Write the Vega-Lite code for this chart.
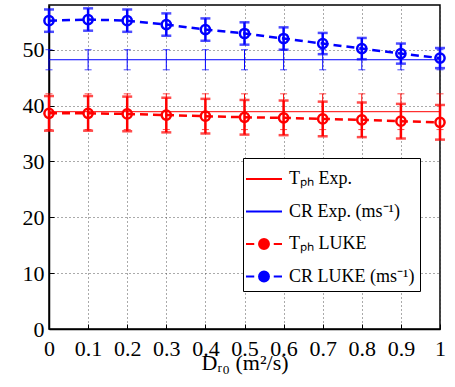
{
  "$schema": "https://vega.github.io/schema/vega-lite/v6.json",
  "width": 391,
  "height": 324,
  "autosize": "none",
  "padding": {"left": 49, "top": 5, "right": 15, "bottom": 58},
  "background": "white",
  "config": {
    "view": {"stroke": "black", "strokeWidth": 1.5},
    "font": "'Liberation Serif', 'Times New Roman', serif",
    "axis": {"labelFont": "'Liberation Serif', 'Times New Roman', serif", "labelFontSize": 22, "labelColor": "black", "labelFlush": false, "labelOverlap": false,
      "tickSize": -5, "tickColor": "black", "tickWidth": 1, "domainColor": "black", "domainWidth": 1.5,
      "grid": true, "gridColor": "#555", "gridDash": [1, 3], "gridWidth": 1,
      "titleFont": "'Liberation Serif', 'Times New Roman', serif", "titleFontSize": 22, "titleFontWeight": "normal", "titleColor": "black"},
    "axisX": {"labelPadding": 14, "titlePadding": -7},
    "axisY": {"labelPadding": 10}
  },
  "data": {"values": [
    {"s": "Tₚₕ Exp.", "x": 0, "y": 38.9, "lo": 35.7, "hi": 42.1},
    {"s": "Tₚₕ Exp.", "x": 0.1, "y": 38.9, "lo": 35.7, "hi": 42.1},
    {"s": "Tₚₕ Exp.", "x": 0.2, "y": 38.9, "lo": 35.7, "hi": 42.1},
    {"s": "Tₚₕ Exp.", "x": 0.3, "y": 38.9, "lo": 35.7, "hi": 42.1},
    {"s": "Tₚₕ Exp.", "x": 0.4, "y": 38.9, "lo": 35.7, "hi": 42.1},
    {"s": "Tₚₕ Exp.", "x": 0.5, "y": 38.9, "lo": 35.7, "hi": 42.1},
    {"s": "Tₚₕ Exp.", "x": 0.6, "y": 38.9, "lo": 35.7, "hi": 42.1},
    {"s": "Tₚₕ Exp.", "x": 0.7, "y": 38.9, "lo": 35.7, "hi": 42.1},
    {"s": "Tₚₕ Exp.", "x": 0.8, "y": 38.9, "lo": 35.7, "hi": 42.1},
    {"s": "Tₚₕ Exp.", "x": 0.9, "y": 38.9, "lo": 35.7, "hi": 42.1},
    {"s": "Tₚₕ Exp.", "x": 1, "y": 38.9, "lo": 35.7, "hi": 42.1},
    {"s": "CR Exp. (ms⁻¹)", "x": 0, "y": 48.2, "lo": 46.4, "hi": 50.0},
    {"s": "CR Exp. (ms⁻¹)", "x": 0.1, "y": 48.2, "lo": 46.4, "hi": 50.0},
    {"s": "CR Exp. (ms⁻¹)", "x": 0.2, "y": 48.2, "lo": 46.4, "hi": 50.0},
    {"s": "CR Exp. (ms⁻¹)", "x": 0.3, "y": 48.2, "lo": 46.4, "hi": 50.0},
    {"s": "CR Exp. (ms⁻¹)", "x": 0.4, "y": 48.2, "lo": 46.4, "hi": 50.0},
    {"s": "CR Exp. (ms⁻¹)", "x": 0.5, "y": 48.2, "lo": 46.4, "hi": 50.0},
    {"s": "CR Exp. (ms⁻¹)", "x": 0.6, "y": 48.2, "lo": 46.4, "hi": 50.0},
    {"s": "CR Exp. (ms⁻¹)", "x": 0.7, "y": 48.2, "lo": 46.4, "hi": 50.0},
    {"s": "CR Exp. (ms⁻¹)", "x": 0.8, "y": 48.2, "lo": 46.4, "hi": 50.0},
    {"s": "CR Exp. (ms⁻¹)", "x": 0.9, "y": 48.2, "lo": 46.4, "hi": 50.0},
    {"s": "CR Exp. (ms⁻¹)", "x": 1, "y": 48.2, "lo": 46.4, "hi": 50.0},
    {"s": "Tₚₕ LUKE", "x": 0, "y": 38.6, "lo": 35.5, "hi": 41.7},
    {"s": "Tₚₕ LUKE", "x": 0.1, "y": 38.6, "lo": 35.5, "hi": 41.7},
    {"s": "Tₚₕ LUKE", "x": 0.2, "y": 38.5, "lo": 35.4, "hi": 41.6},
    {"s": "Tₚₕ LUKE", "x": 0.3, "y": 38.3, "lo": 35.2, "hi": 41.4},
    {"s": "Tₚₕ LUKE", "x": 0.4, "y": 38.1, "lo": 35.0, "hi": 41.2},
    {"s": "Tₚₕ LUKE", "x": 0.5, "y": 37.9, "lo": 34.8, "hi": 41.0},
    {"s": "Tₚₕ LUKE", "x": 0.6, "y": 37.8, "lo": 34.7, "hi": 40.9},
    {"s": "Tₚₕ LUKE", "x": 0.7, "y": 37.6, "lo": 34.5, "hi": 40.7},
    {"s": "Tₚₕ LUKE", "x": 0.8, "y": 37.45, "lo": 34.35, "hi": 40.55},
    {"s": "Tₚₕ LUKE", "x": 0.9, "y": 37.2, "lo": 34.1, "hi": 40.3},
    {"s": "Tₚₕ LUKE", "x": 1, "y": 37.0, "lo": 33.9, "hi": 40.1},
    {"s": "CR LUKE (ms⁻¹)", "x": 0, "y": 55.2, "lo": 53.2, "hi": 57.2},
    {"s": "CR LUKE (ms⁻¹)", "x": 0.1, "y": 55.4, "lo": 53.4, "hi": 57.4},
    {"s": "CR LUKE (ms⁻¹)", "x": 0.2, "y": 55.2, "lo": 53.2, "hi": 57.2},
    {"s": "CR LUKE (ms⁻¹)", "x": 0.3, "y": 54.5, "lo": 52.5, "hi": 56.5},
    {"s": "CR LUKE (ms⁻¹)", "x": 0.4, "y": 53.6, "lo": 51.6, "hi": 55.6},
    {"s": "CR LUKE (ms⁻¹)", "x": 0.5, "y": 52.9, "lo": 50.9, "hi": 54.9},
    {"s": "CR LUKE (ms⁻¹)", "x": 0.6, "y": 52.0, "lo": 50.0, "hi": 54.0},
    {"s": "CR LUKE (ms⁻¹)", "x": 0.7, "y": 51.1, "lo": 49.2, "hi": 53.0},
    {"s": "CR LUKE (ms⁻¹)", "x": 0.8, "y": 50.2, "lo": 48.3, "hi": 52.1},
    {"s": "CR LUKE (ms⁻¹)", "x": 0.9, "y": 49.3, "lo": 47.5, "hi": 51.1},
    {"s": "CR LUKE (ms⁻¹)", "x": 1, "y": 48.5, "lo": 46.7, "hi": 50.3}
  ]},
  "encoding": {
    "x": {"field": "x", "type": "quantitative", "scale": {"domain": [0, 1], "nice": false},
      "title": "Dᵣ₀ (m²/s)",
      "axis": {"values": [0, 0.1, 0.2, 0.3, 0.4, 0.5, 0.6, 0.7, 0.8, 0.9, 1], "format": ".1~f"}}
  },
  "layer": [
    {
      "transform": [{"filter": "indexof(datum.s,'Exp')>=0"}],
      "mark": {"type": "line", "strokeWidth": 1},
      "encoding": {
        "y": {"field": "y", "type": "quantitative", "scale": {"domain": [0, 58], "nice": false}, "title": null, "axis": {"values": [0, 10, 20, 30, 40, 50]}},
        "color": {"field": "s", "type": "nominal",
          "scale": {"domain": ["Tₚₕ Exp.", "CR Exp. (ms⁻¹)", "Tₚₕ LUKE", "CR LUKE (ms⁻¹)"], "range": ["#ff0000", "#0000ff", "#ff0000", "#0000ff"]},
          "legend": {"title": null, "orient": "none", "legendX": 194, "legendY": 153, "direction": "vertical",
            "strokeColor": "black", "fillColor": "white", "padding": 5, "cornerRadius": 0,
            "labelFont": "'Liberation Serif', 'Times New Roman', serif", "labelFontSize": 18, "labelColor": "black", "labelOffset": 9, "labelLimit": 300,
            "symbolSize": 900, "rowPadding": 7.5, "symbolStrokeWidth": 2, "symbolOpacity": 1, "symbolFillColor": "transparent",
            "encode": {"symbols": {"update": {"fill": {"value": "transparent"}, "opacity": {"value": 1}}}}}}
      }
    },
    {
      "transform": [{"filter": "indexof(datum.s,'Exp')>=0"}],
      "mark": {"type": "rule", "strokeWidth": 1},
      "encoding": {
        "y": {"field": "lo", "type": "quantitative", "scale": {"domain": [0, 58], "nice": false}, "title": null, "axis": {"values": [0, 10, 20, 30, 40, 50]}},
        "y2": {"field": "hi"},
        "color": {"field": "s", "type": "nominal", "scale": {"domain": ["Tₚₕ Exp.", "CR Exp. (ms⁻¹)", "Tₚₕ LUKE", "CR LUKE (ms⁻¹)"], "range": ["#ff0000", "#0000ff", "#ff0000", "#0000ff"]}, "legend": null}
      }
    },
    {
      "transform": [{"filter": "indexof(datum.s,'Exp')>=0"}],
      "mark": {"type": "tick", "orient": "horizontal", "size": 7, "thickness": 1},
      "encoding": {
        "y": {"field": "lo", "type": "quantitative", "scale": {"domain": [0, 58], "nice": false}, "title": null, "axis": {"values": [0, 10, 20, 30, 40, 50]}},
        "fill": {"field": "s", "type": "nominal", "scale": {"domain": ["Tₚₕ Exp.", "CR Exp. (ms⁻¹)", "Tₚₕ LUKE", "CR LUKE (ms⁻¹)"], "range": ["#ff0000", "#0000ff", "#ff0000", "#0000ff"]}, "legend": null}
      }
    },
    {
      "transform": [{"filter": "indexof(datum.s,'Exp')>=0"}],
      "mark": {"type": "tick", "orient": "horizontal", "size": 7, "thickness": 1},
      "encoding": {
        "y": {"field": "hi", "type": "quantitative", "scale": {"domain": [0, 58], "nice": false}, "title": null, "axis": {"values": [0, 10, 20, 30, 40, 50]}},
        "fill": {"field": "s", "type": "nominal", "scale": {"domain": ["Tₚₕ Exp.", "CR Exp. (ms⁻¹)", "Tₚₕ LUKE", "CR LUKE (ms⁻¹)"], "range": ["#ff0000", "#0000ff", "#ff0000", "#0000ff"]}, "legend": null}
      }
    },
    {
      "transform": [{"filter": "indexof(datum.s,'LUKE')>=0"}],
      "mark": {"type": "line", "strokeWidth": 2.5, "strokeDash": [8, 5]},
      "encoding": {
        "y": {"field": "y", "type": "quantitative", "scale": {"domain": [0, 58], "nice": false}, "title": null, "axis": {"values": [0, 10, 20, 30, 40, 50]}},
        "color": {"field": "s", "type": "nominal", "scale": {"domain": ["Tₚₕ Exp.", "CR Exp. (ms⁻¹)", "Tₚₕ LUKE", "CR LUKE (ms⁻¹)"], "range": ["#ff0000", "#0000ff", "#ff0000", "#0000ff"]}, "legend": null}
      }
    },
    {
      "transform": [{"filter": "indexof(datum.s,'LUKE')>=0"}],
      "mark": {"type": "rule", "strokeWidth": 2.5},
      "encoding": {
        "y": {"field": "lo", "type": "quantitative", "scale": {"domain": [0, 58], "nice": false}, "title": null, "axis": {"values": [0, 10, 20, 30, 40, 50]}},
        "y2": {"field": "hi"},
        "color": {"field": "s", "type": "nominal", "scale": {"domain": ["Tₚₕ Exp.", "CR Exp. (ms⁻¹)", "Tₚₕ LUKE", "CR LUKE (ms⁻¹)"], "range": ["#ff0000", "#0000ff", "#ff0000", "#0000ff"]}, "legend": null}
      }
    },
    {
      "transform": [{"filter": "indexof(datum.s,'LUKE')>=0"}],
      "mark": {"type": "tick", "orient": "horizontal", "size": 10, "thickness": 2.5},
      "encoding": {
        "y": {"field": "lo", "type": "quantitative", "scale": {"domain": [0, 58], "nice": false}, "title": null, "axis": {"values": [0, 10, 20, 30, 40, 50]}},
        "fill": {"field": "s", "type": "nominal", "scale": {"domain": ["Tₚₕ Exp.", "CR Exp. (ms⁻¹)", "Tₚₕ LUKE", "CR LUKE (ms⁻¹)"], "range": ["#ff0000", "#0000ff", "#ff0000", "#0000ff"]}, "legend": null}
      }
    },
    {
      "transform": [{"filter": "indexof(datum.s,'LUKE')>=0"}],
      "mark": {"type": "tick", "orient": "horizontal", "size": 10, "thickness": 2.5},
      "encoding": {
        "y": {"field": "hi", "type": "quantitative", "scale": {"domain": [0, 58], "nice": false}, "title": null, "axis": {"values": [0, 10, 20, 30, 40, 50]}},
        "fill": {"field": "s", "type": "nominal", "scale": {"domain": ["Tₚₕ Exp.", "CR Exp. (ms⁻¹)", "Tₚₕ LUKE", "CR LUKE (ms⁻¹)"], "range": ["#ff0000", "#0000ff", "#ff0000", "#0000ff"]}, "legend": null}
      }
    },
    {
      "transform": [{"filter": "indexof(datum.s,'LUKE')>=0"}],
      "mark": {"type": "point", "shape": "circle", "filled": false, "size": 85, "strokeWidth": 2.5, "opacity": 1},
      "encoding": {
        "y": {"field": "y", "type": "quantitative", "scale": {"domain": [0, 58], "nice": false}, "title": null, "axis": {"values": [0, 10, 20, 30, 40, 50]}},
        "color": {"field": "s", "type": "nominal", "scale": {"domain": ["Tₚₕ Exp.", "CR Exp. (ms⁻¹)", "Tₚₕ LUKE", "CR LUKE (ms⁻¹)"], "range": ["#ff0000", "#0000ff", "#ff0000", "#0000ff"]}, "legend": null}
      }
    },
    {
      "mark": {"type": "point", "filled": false, "opacity": 0},
      "encoding": {
        "y": {"field": "y", "type": "quantitative", "scale": {"domain": [0, 58], "nice": false}, "title": null, "axis": {"values": [0, 10, 20, 30, 40, 50]}},
        "color": {"field": "s", "type": "nominal", "scale": {"domain": ["Tₚₕ Exp.", "CR Exp. (ms⁻¹)", "Tₚₕ LUKE", "CR LUKE (ms⁻¹)"], "range": ["#ff0000", "#0000ff", "#ff0000", "#0000ff"]}, "legend": null},
        "shape": {"field": "s", "type": "nominal",
          "scale": {"domain": ["Tₚₕ Exp.", "CR Exp. (ms⁻¹)", "Tₚₕ LUKE", "CR LUKE (ms⁻¹)"],
            "range": ["M-1.2,0L1.2,0", "M-1.2,0L1.2,0",
              "M-1.2,0L-0.65,0M-0.33,0A0.33,0.33 0 1 1 0.33,0A0.33,0.33 0 1 1 -0.33,0ZM-0.33,0L0.33,0M0.65,0L1.2,0",
              "M-1.2,0L-0.65,0M-0.33,0A0.33,0.33 0 1 1 0.33,0A0.33,0.33 0 1 1 -0.33,0ZM-0.33,0L0.33,0M0.65,0L1.2,0"]},
          "legend": {"title": null, "orient": "none", "legendX": 194, "legendY": 153, "direction": "vertical",
            "strokeColor": "black", "fillColor": "white", "padding": 5, "cornerRadius": 0,
            "labelFont": "'Liberation Serif', 'Times New Roman', serif", "labelFontSize": 18, "labelColor": "black", "labelOffset": 9, "labelLimit": 300,
            "symbolSize": 900, "rowPadding": 7.5, "symbolStrokeWidth": 2, "symbolOpacity": 1, "symbolFillColor": "transparent",
            "encode": {"symbols": {"update": {"fill": {"value": "transparent"}, "opacity": {"value": 1}}}}}}
      }
    }
  ]
}
